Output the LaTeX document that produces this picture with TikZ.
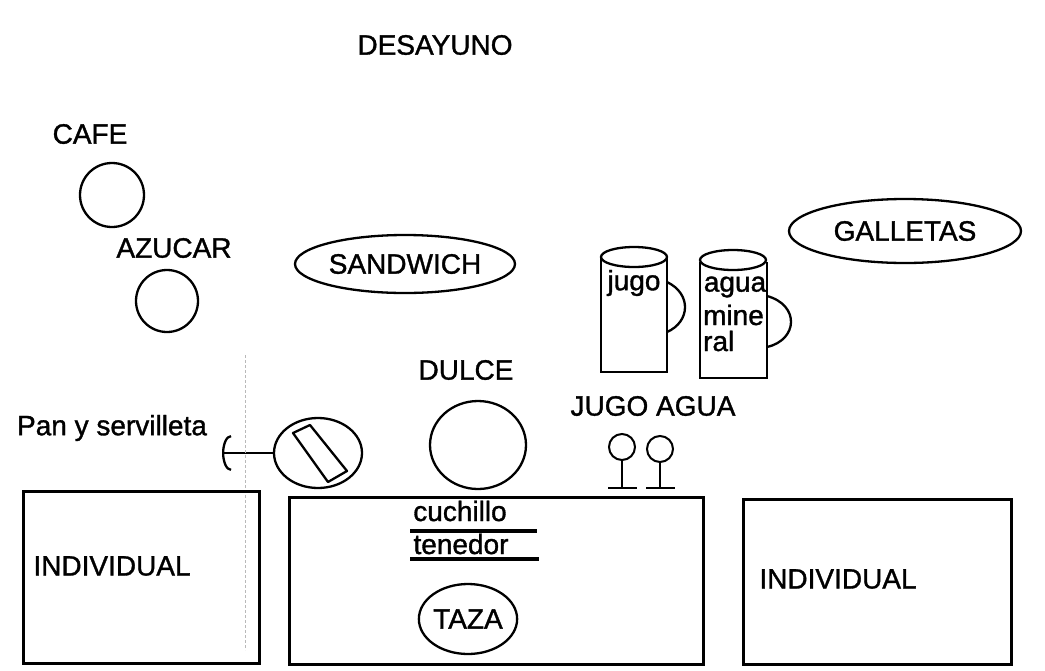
\documentclass[tikz,border=0pt]{standalone}
\usepackage{fontspec}
\setmainfont{Liberation Sans}[FakeBold=1.2]
\usetikzlibrary{arrows.meta, positioning, shapes.geometric}

\begin{document}
\begin{tikzpicture}[x=1pt, y=-1pt, line width=2.3pt,
  every node/.style={font=\fontsize{28}{30}\selectfont, inner sep=0pt},
  dish/.style={draw, ellipse, line width=2.3pt},
  placemat/.style={draw, line width=2.6pt, anchor=north west}]
\useasboundingbox (0,0) rectangle (1045,670);
\def\topry{10}

% Title
\node (title) at (435,45) {DESAYUNO};

% Coffee and sugar
\node (cafelbl) at (90,134) {CAFE};
\node[dish, minimum width=64pt, minimum height=64pt] (cafe) at (112,195) {};
\node (azucarlbl) at (174,248) {AZUCAR};
\node[dish, minimum width=62pt, minimum height=62pt] (azucar) at (167,301) {};

% Trays
\node[dish, minimum width=220pt, minimum height=58pt] (sandwich) at (405,264) {SANDWICH};
\node[dish, minimum width=232pt, minimum height=64pt] (galletas) at (905,231) {GALLETAS};

% Pitchers
\draw (601,258) -- (601,372) -- (667,372) -- (667,258);
\draw[fill=white] (634,257) ellipse [x radius=33, y radius=\topry];
\draw (667,282) .. controls (692,294) and (690,322) .. (667,332);
\node (jugo) at (634,283) {jugo};

\draw (700,262) -- (700,378) -- (767,378) -- (767,262);
\draw[fill=white] (733,260) ellipse [x radius=33, y radius=\topry];
\draw (767,296) .. controls (800,305) and (798,340) .. (767,347);
\node (agua) at (735,287) {agua};
\node[anchor=west] (mine) at (702,315) {mine};
\node[anchor=west] (ral) at (702,341) {ral};

% Sweet
\node (dulcelbl) at (466,370) {DULCE};
\node[dish, minimum width=96pt, minimum height=88pt] (dulce) at (478,445) {};

% Bread and napkin
\node[dish, minimum width=88pt, minimum height=70pt] (pan) at (318,453) {};
\draw[line join=round] (293,433) -- (310,425) -- (347,471) -- (328,482) -- cycle;
\coordinate (pantip) at (222,453);
\draw[-{Arc Barb[length=9pt, width=36pt]}] (pan.west) -- (pantip);
\node (panlbl) at (112,428) {Pan y servilleta};

% Faint fold mark
\draw[gray!55, line width=0.6pt, densely dashed] (245,355) -- (245,650);

% Glasses
\node (vasoslbl) at (653,406) {JUGO AGUA};
\foreach \x/\y in {622/447, 660/449} {
  \draw[line width=2pt] (\x,\y) circle [radius=13];
  \draw[line width=2pt] (\x,\y+13) -- (\x,488);
  \draw[line width=2.6pt] (\x-14,488) -- (\x+15,488);
}

% Place mats
\node[placemat, minimum width=236pt, minimum height=172pt] (leftmat) at (22,490) {};
\node[placemat, minimum width=414pt, minimum height=167pt] (centermat) at (288,496) {};
\node[placemat, minimum width=268pt, minimum height=165pt] (rightmat) at (742,498) {};
\node (leftlbl) at (112,566) {INDIVIDUAL};
\node (rightlbl) at (838,579) {INDIVIDUAL};

% Cutlery
\node (cuchillo) at (460,511) {cuchillo};
\draw[line width=3.2pt] (410,531) -- (537,531);
\node (tenedor) at (461,544) {tenedor};
\draw[line width=3.2pt] (410,559) -- (539,559);

% Cup
\node[dish, minimum width=92pt, minimum height=70pt] (taza) at (468,619) {TAZA};

\end{tikzpicture}
\end{document}
